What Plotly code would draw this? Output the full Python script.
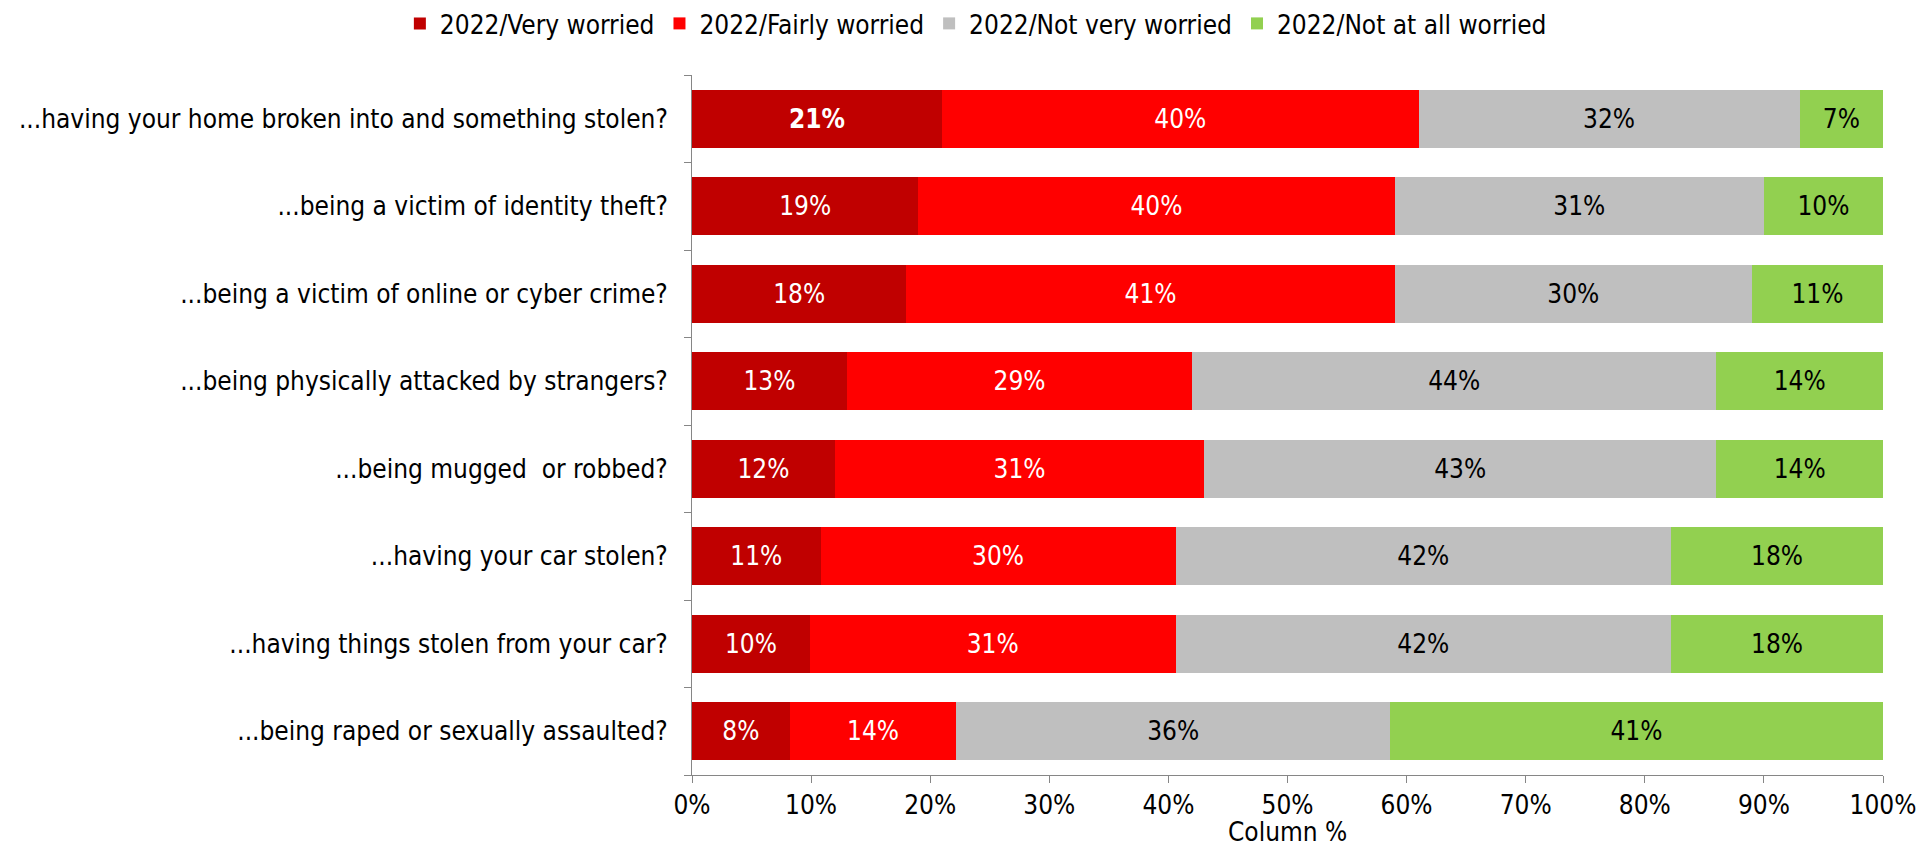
import plotly.graph_objects as go

# Survey items, listed top to bottom
categories = [
    "...having your home broken into and something stolen?",
    "...being a victim of identity theft?",
    "...being a victim of online or cyber crime?",
    "...being physically attacked by strangers?",
    "...being mugged  or robbed?",
    "...having your car stolen?",
    "...having things stolen from your car?",
    "...being raped or sexually assaulted?",
]

very_worried = [21, 19, 18, 13, 12, 10.8, 9.9, 8.2]
fairly_worried = [40, 40, 41, 29, 31, 29.8, 30.7, 14.0]
not_very_worried = [32, 31, 30, 44, 43, 41.6, 41.6, 36.4]
not_at_all_worried = [7, 10, 11, 14, 14, 17.8, 17.8, 41.4]

series = [
    ("2022/Very worried", very_worried, "#C00000", "white"),
    ("2022/Fairly worried", fairly_worried, "#FF0000", "white"),
    ("2022/Not very worried", not_very_worried, "#BFBFBF", "black"),
    ("2022/Not at all worried", not_at_all_worried, "#92D050", "black"),
]

FONT = "DejaVu Sans Condensed"
SIZE = 26

fig = go.Figure()
for idx, (name, vals, color, txtcolor) in enumerate(series):
    labels = [f"{round(v):d}%" for v in vals]
    if idx == 0:
        labels[0] = f"<b>{labels[0]}</b>"
    fig.add_trace(go.Bar(
        name=name,
        y=categories,
        x=vals,
        orientation="h",
        marker=dict(color=color, line=dict(width=0)),
        text=labels,
        textposition="inside",
        insidetextanchor="middle",
        textangle=0,
        textfont=dict(color=txtcolor, size=SIZE, family=FONT),
        hoverinfo="skip",
    ))

# Axis title placed as an annotation so the plot area keeps its fixed size
fig.add_annotation(
    text="Column %",
    xref="paper", yref="paper",
    x=0.5, y=-0.082,
    xanchor="center", yanchor="middle",
    showarrow=False,
    font=dict(size=SIZE, family=FONT, color="black"),
)

fig.update_layout(
    barmode="stack",
    bargap=0.335,
    width=1921,
    height=848,
    margin=dict(l=692, r=38, t=75, b=73),
    paper_bgcolor="white",
    plot_bgcolor="white",
    font=dict(family=FONT, size=SIZE, color="black"),
    legend=dict(
        orientation="h",
        xref="container",
        yref="container",
        x=0.508,
        xanchor="center",
        y=1.0,
        yanchor="top",
        font=dict(size=SIZE, family=FONT),
        itemwidth=30,
        traceorder="normal",
    ),
    xaxis=dict(
        range=[0, 100],
        tickvals=[0, 10, 20, 30, 40, 50, 60, 70, 80, 90, 100],
        ticktext=[f"{v}%" for v in range(0, 101, 10)],
        showgrid=False,
        zeroline=False,
        showline=True,
        linecolor="#868686",
        linewidth=1,
        ticks="outside",
        ticklen=7,
        tickcolor="#868686",
        tickfont=dict(size=SIZE, family=FONT),
        automargin=False,
    ),
    yaxis=dict(
        categoryorder="array",
        categoryarray=categories[::-1],
        showgrid=False,
        showline=True,
        linecolor="#868686",
        linewidth=1,
        ticks="outside",
        tickson="boundaries",
        ticklen=7,
        tickcolor="#868686",
        tickfont=dict(size=SIZE, family=FONT),
        ticklabelstandoff=18,
        automargin=False,
    ),
)

fig.write_html("out.html")
